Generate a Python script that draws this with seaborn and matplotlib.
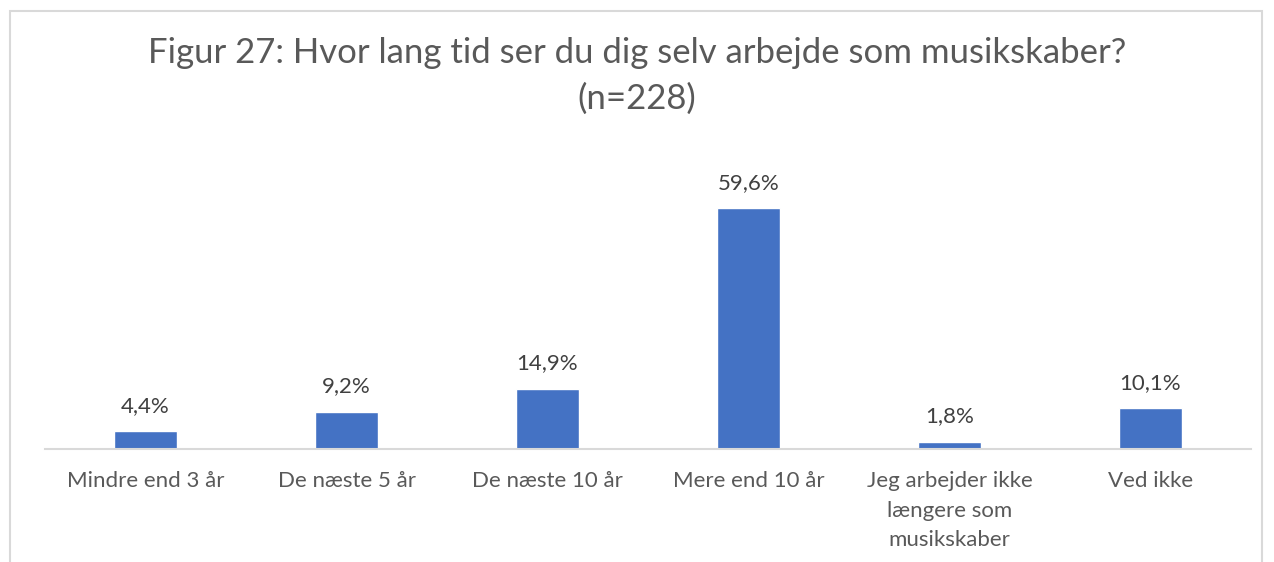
import matplotlib
matplotlib.use("Agg")
import matplotlib.pyplot as plt
import matplotlib.patches as mpatches
import pandas as pd
import seaborn as sns

categories = ["Mindre end 3 år", "De næste 5 år", "De næste 10 år", "Mere end 10 år",
              "Jeg arbejder ikke\nlængere som\nmusikskaber", "Ved ikke"]
values = [4.4, 9.2, 14.9, 59.6, 1.8, 10.1]
labels = ["4,4%", "9,2%", "14,9%", "59,6%", "1,8%", "10,1%"]

df = pd.DataFrame({"kategori": categories, "andel": values})

sns.set_style("white")
plt.rcParams["font.family"] = ["Lato", "DejaVu Sans"]

fig = plt.figure(figsize=(12.74, 5.62), dpi=100)
ax = fig.add_axes([45 / 1274, 1 - 449 / 562, 1206 / 1274, 283 / 562])

sns.barplot(data=df, x="kategori", y="andel", color="#4472C4", width=0.31,
            saturation=1, ax=ax)

for i, (v, lab) in enumerate(zip(values, labels)):
    ax.text(i, v + 3.8, lab, ha="center", va="bottom", fontsize=16, color="#404040")

ax.set_ylim(0, 70)
ax.set_xlim(-0.5, len(categories) - 0.5)
ax.set_xlabel("")
ax.set_ylabel("")
ax.set_yticks([])
for s in ["top", "right", "left"]:
    ax.spines[s].set_visible(False)
ax.spines["bottom"].set_color("#d9d9d9")
ax.spines["bottom"].set_linewidth(1.5)
ax.tick_params(axis="x", length=0, pad=16, labelsize=16, labelcolor="#595959")
for t in ax.get_xticklabels():
    t.set_linespacing(1.6)
ax.patch.set_alpha(0)

fig.text(0.5, 1 - 76 / 562, "Figur 27: Hvor lang tid ser du dig selv arbejde som musikskaber?\n(n=228)",
         ha="center", va="center", fontsize=25, color="#595959", linespacing=1.5)

border = mpatches.Rectangle((10 / 1274, -0.1), 1252 / 1274, 1.1 - 11 / 562,
                            transform=fig.transFigure, fill=False,
                            edgecolor="#d9d9d9", linewidth=1.5)
fig.patches.append(border)

fig.savefig("out.png", dpi=100)
